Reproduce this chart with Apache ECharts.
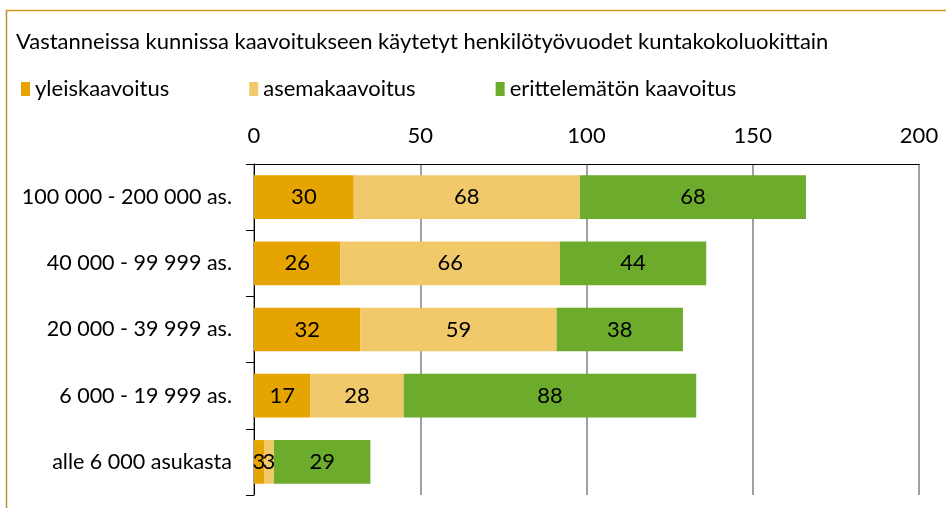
<!DOCTYPE html>
<html><head><meta charset="utf-8">
<script src="https://cdn.jsdelivr.net/npm/echarts@6/dist/echarts.min.js"></script>
<style>html,body{margin:0;padding:0;background:#fff}#c{width:946px;height:508px}</style>
</head><body><div id="c"></div>
<script>
const categories = ['100 000 - 200 000 as.', '40 000 - 99 999 as.', '20 000 - 39 999 as.', '6 000 - 19 999 as.', 'alle 6 000 asukasta'];
const seriesNames = ['yleiskaavoitus', 'asemakaavoitus', 'erittelemätön kaavoitus'];
const yleis = [30, 26, 32, 17, 3];
const asema = [68, 66, 59, 28, 3];
const eritt = [68, 44, 38, 88, 29];
const xTicks = [0, 50, 100, 150, 200];
const colors = ['#E6A400', '#F1C96B', '#6CAB2B'];
const FONT = 'Lato';
const chart = echarts.init(document.getElementById('c'));
const mk = (name, data, color) => ({
  name, type: 'bar', stack: 'a', data, barCategoryGap: '34%',
  itemStyle: { color },
  label: { show: true, position: 'inside', color: '#000', fontSize: 22, fontFamily: FONT }
});
chart.setOption({
  animation: false,
  textStyle: { fontFamily: FONT },
  title: { text: 'Vastanneissa kunnissa kaavoitukseen käytetyt henkilötyövuodet kuntakokoluokittain', left: 11, top: 26,
    textStyle: { fontSize: 22, fontWeight: 'normal', color: '#000', fontFamily: FONT } },
  legend: { left: 16, top: 73, itemWidth: 9, itemHeight: 14, itemGap: 80, icon: 'rect',
    textStyle: { fontSize: 22, color: '#000', fontFamily: FONT }, data: seriesNames },
  grid: { left: 254, right: 27, top: 164, bottom: 13, containLabel: false },
  xAxis: { type: 'value', position: 'top', min: xTicks[0], max: xTicks[xTicks.length - 1], interval: 50,
    axisLine: { show: true, lineStyle: { color: '#000', width: 1 } },
    axisTick: { show: false },
    splitLine: { show: true, lineStyle: { color: '#808080', width: 1.5 } },
    axisLabel: { fontSize: 22, color: '#000', margin: 17, fontFamily: FONT } },
  yAxis: { type: 'category', inverse: true, data: categories,
    axisLine: { show: true, lineStyle: { color: '#000', width: 1 } },
    axisTick: { show: true, length: 8, lineStyle: { color: '#000' } },
    axisLabel: { fontSize: 21.5, color: '#000', margin: 22, fontFamily: FONT } },
  graphic: [
    { type: 'line', shape: { x1: 6, y1: 10.5, x2: 946, y2: 10.5 }, style: { stroke: '#D39B25', lineWidth: 1.5 } },
    { type: 'line', shape: { x1: 6.5, y1: 10, x2: 6.5, y2: 508 }, style: { stroke: '#B8923A', lineWidth: 1.5 } }
  ],
  series: [mk(seriesNames[0], yleis, colors[0]), mk(seriesNames[1], asema, colors[1]), mk(seriesNames[2], eritt, colors[2])]
});
</script></body></html>
